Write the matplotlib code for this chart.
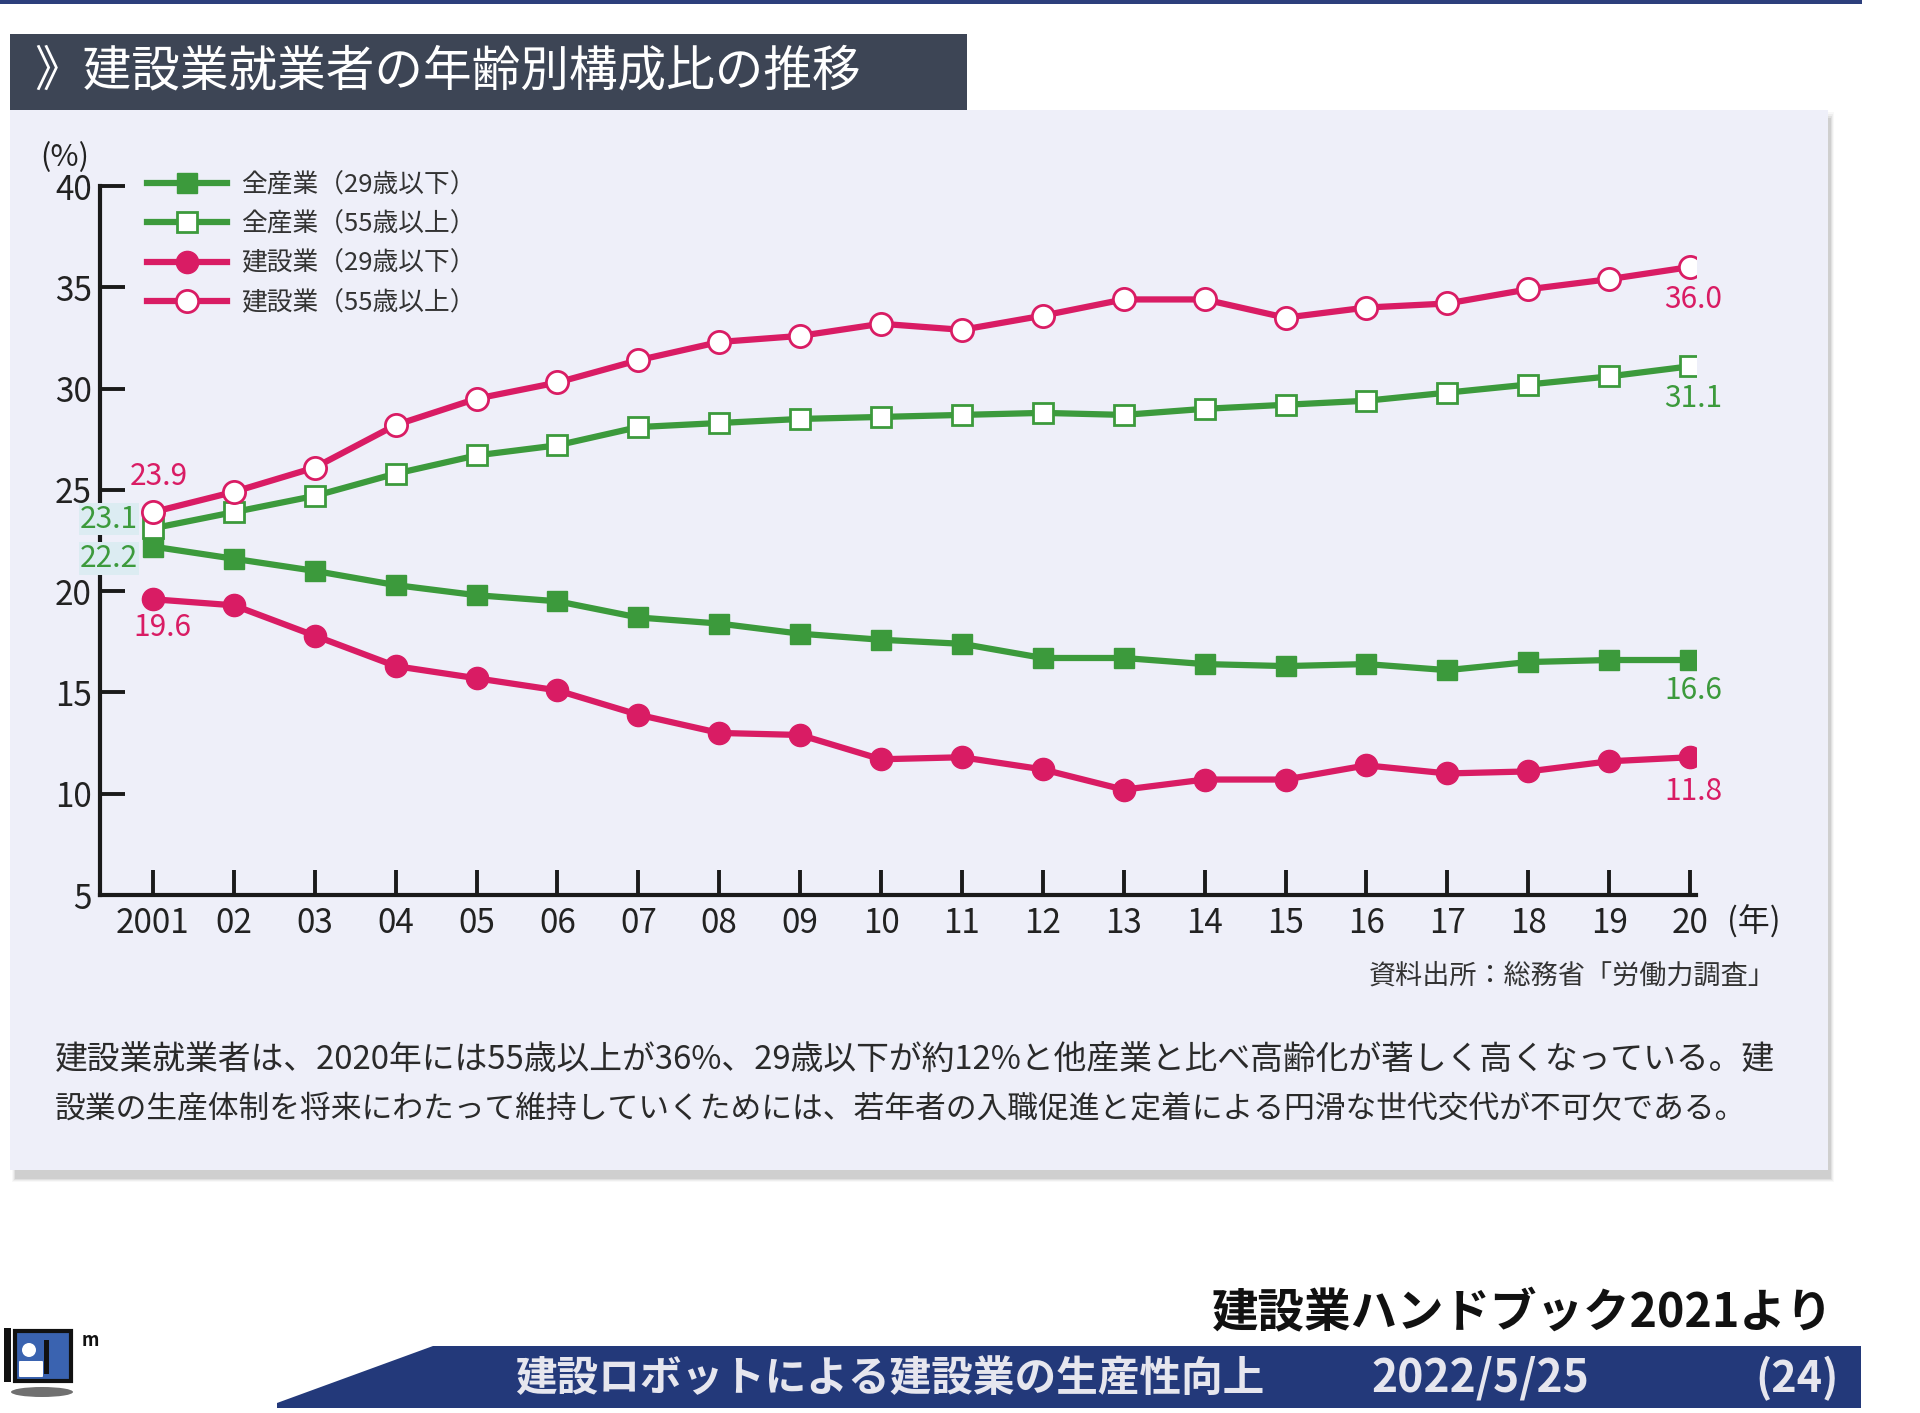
import numpy as np
import matplotlib.pyplot as plt
from matplotlib.patches import Rectangle, Polygon, Circle, Ellipse, FancyBboxPatch

plt.rcParams['font.family'] = ['Noto Sans CJK JP', 'DejaVu Sans']

# --- data ---
years = [2001, 2002, 2003, 2004, 2005, 2006, 2007, 2008, 2009, 2010,
         2011, 2012, 2013, 2014, 2015, 2016, 2017, 2018, 2019, 2020]
year_labels = ['2001', '02', '03', '04', '05', '06', '07', '08', '09', '10',
               '11', '12', '13', '14', '15', '16', '17', '18', '19', '20']
y_ticks = [5, 10, 15, 20, 25, 30, 35, 40]

all_young = [22.2, 21.6, 21.0, 20.3, 19.8, 19.5, 18.7, 18.4, 17.9, 17.6,
             17.4, 16.7, 16.7, 16.4, 16.3, 16.4, 16.1, 16.5, 16.6, 16.6]
all_old = [23.1, 23.9, 24.7, 25.8, 26.7, 27.2, 28.1, 28.3, 28.5, 28.6,
           28.7, 28.8, 28.7, 29.0, 29.2, 29.4, 29.8, 30.2, 30.6, 31.1]
con_young = [19.6, 19.3, 17.8, 16.3, 15.7, 15.1, 13.9, 13.0, 12.9, 11.7,
             11.8, 11.2, 10.2, 10.7, 10.7, 11.4, 11.0, 11.1, 11.6, 11.8]
con_old = [23.9, 24.9, 26.1, 28.2, 29.5, 30.3, 31.4, 32.3, 32.6, 33.2,
           32.9, 33.6, 34.4, 34.4, 33.5, 34.0, 34.2, 34.9, 35.4, 36.0]

legend_labels = ['全産業（29歳以下）', '全産業（55歳以上）',
                 '建設業（29歳以下）', '建設業（55歳以上）']

title = '》建設業就業者の年齢別構成比の推移'
body_lines = ['建設業就業者は、2020年には55歳以上が36%、29歳以下が約12%と他産業と比べ高齢化が著しく高くなっている。建',
              '設業の生産体制を将来にわたって維持していくためには、若年者の入職促進と定着による円滑な世代交代が不可欠である。']
body_widths = [1723, 1696]   # target pixel width of each body line
source = '資料出所：総務省「労働力調査」'

GREEN = '#3c9a3c'
PINK = '#d91c64'
W, H = 1920, 1413

fig = plt.figure(figsize=(W / 100, H / 100), dpi=100)
fig.patch.set_facecolor('white')

# --- background layer in pixel coordinates ---
bg = fig.add_axes([0, 0, 1, 1])
bg.set_xlim(0, W)
bg.set_ylim(H, 0)
bg.axis('off')

bg.add_patch(Rectangle((0, 0), 1862, 4, color='#2d3f7c', lw=0))
# panel with soft shadow
for i, a in enumerate([0.04, 0.06, 0.09, 0.12]):
    bg.add_patch(Rectangle((12 + i, 112 + i * 2), 1822 - i * 2, 1070 - i * 3, color='#555555', alpha=a, lw=0))
bg.add_patch(Rectangle((10, 110), 1818, 1060, color='#eeeff9', lw=0))
# title bar
bg.add_patch(Rectangle((10, 34), 957, 76, color='#3d4555', lw=0))
bg.text(34, 72, title, color='white', fontsize=35, va='center', ha='left')

bg.text(1776, 976, source, fontsize=19.5, ha='right', va='center', color='#333333')
body_texts = []
for i, line in enumerate(body_lines):
    body_texts.append(bg.text(55, 1061 + i * 49, line, fontsize=23, ha='left', va='center', color='#2a2a2a'))

bg.text(1833, 1313, '建設業ハンドブック2021より', fontsize=33.5, fontweight='bold',
        ha='right', va='center', color='#111111')

# bottom banner
bg.add_patch(Polygon([[277, 1403], [433, 1346], [1861, 1346], [1861, 1408], [277, 1408]],
                     closed=True, color='#23397a', lw=0))
bg.text(515, 1379, '建設ロボットによる建設業の生産性向上', fontsize=30, fontweight='bold',
        color='#e6e6ee', ha='left', va='center')
bg.text(1371, 1379, '2022/5/25', fontsize=32, fontweight='bold', color='#e6e6ee', ha='left', va='center')
bg.text(1839, 1379, '(24)', fontsize=31, fontweight='bold', color='#e6e6ee', ha='right', va='center')

# logo
bg.add_patch(Ellipse((42, 1392), 62, 10, color='#333333', alpha=0.7, lw=0))
bg.add_patch(Rectangle((4, 1328), 7, 54, color='#111111', lw=0))
bg.add_patch(Rectangle((15, 1331), 56, 50, fc='#3a63b0', ec='#111111', lw=3))
bg.add_patch(Circle((29, 1350), 7, color='white', lw=0))
bg.add_patch(FancyBboxPatch((20, 1362), 22, 14, boxstyle='round,pad=1', color='white', lw=0))
bg.add_patch(Rectangle((44, 1340), 5, 34, color='#111111', lw=0))
bg.text(82, 1340, 'm', fontsize=13, fontweight='bold', color='#111111', ha='left', va='center')

# --- chart ---
ax = fig.add_axes([100 / W, 1 - 895 / H, (1696 - 100) / W, (895 - 186) / H])
ax.patch.set_alpha(0)

ax.plot(years, all_young, color=GREEN, lw=4.5, marker='s', ms=15,
        mfc=GREEN, mec=GREEN, label=legend_labels[0], zorder=3)
ax.plot(years, all_old, color=GREEN, lw=4.5, marker='s', ms=15,
        mfc='white', mec=GREEN, mew=2, label=legend_labels[1], zorder=3)
ax.plot(years, con_young, color=PINK, lw=4.5, marker='o', ms=16,
        mfc=PINK, mec=PINK, label=legend_labels[2], zorder=3)
ax.plot(years, con_old, color=PINK, lw=4.5, marker='o', ms=16,
        mfc='white', mec=PINK, mew=2, label=legend_labels[3], zorder=3)

ax.set_xlim(years[0] - 53 / 81, years[-1] + 6 / 81)
ax.set_ylim(5, 40)
ax.set_xticks(years)
ax.set_xticklabels(year_labels)
ax.set_yticks(y_ticks)
for s in ['top', 'right']:
    ax.spines[s].set_visible(False)
for s in ['left', 'bottom']:
    ax.spines[s].set_linewidth(3)
    ax.spines[s].set_color('#1a1a1a')
ax.tick_params(direction='in', length=18, width=2.8, color='#1a1a1a',
               labelsize=24, labelcolor='#222222')
ax.tick_params(axis='x', pad=8)
ax.tick_params(axis='y', pad=6)

ax.text(-0.022, 1.04, '(%)', transform=ax.transAxes, fontsize=22, ha='center', va='center', color='#222222')
ax.annotate('(年)', xy=(years[-1], 5), xytext=(64, -27), textcoords='offset pixels',
            fontsize=23, ha='center', va='center', color='#222222', annotation_clip=False)

# value labels at both ends
lab = dict(textcoords='offset pixels', fontsize=21.5, va='center', annotation_clip=False)
ax.annotate(f'{con_old[0]:.1f}', xy=(years[0], con_old[0]), xytext=(6, 36), ha='center', color=PINK, **lab)
ax.annotate(f'{con_young[0]:.1f}', xy=(years[0], con_young[0]), xytext=(9, -28), ha='center', color=PINK, **lab)
ax.annotate(f'{all_old[0]:.1f}', xy=(years[0], all_old[0]), xytext=(-15, 9), ha='right', color=GREEN,
            bbox=dict(boxstyle='square,pad=0.02', fc='#dcecf2', ec='none'), **lab)
ax.annotate(f'{all_young[0]:.1f}', xy=(years[0], all_young[0]), xytext=(-15, -12), ha='right', color=GREEN,
            bbox=dict(boxstyle='square,pad=0.02', fc='#dcecf2', ec='none'), **lab)
ax.annotate(f'{con_old[-1]:.1f}', xy=(years[-1], con_old[-1]), xytext=(3, -32), ha='center', color=PINK, **lab)
ax.annotate(f'{all_old[-1]:.1f}', xy=(years[-1], all_old[-1]), xytext=(3, -32), ha='center', color=GREEN, **lab)
ax.annotate(f'{all_young[-1]:.1f}', xy=(years[-1], all_young[-1]), xytext=(3, -30), ha='center', color=GREEN, **lab)
ax.annotate(f'{con_young[-1]:.1f}', xy=(years[-1], con_young[-1]), xytext=(3, -34), ha='center', color=PINK, **lab)

leg = ax.legend(loc='upper left', bbox_to_anchor=(147 / W, 1 - 172 / H), bbox_transform=fig.transFigure,
                frameon=False, fontsize=18.5, handlelength=3.1, labelspacing=0.52,
                handletextpad=0.55, borderpad=0, borderaxespad=0)
for t in leg.get_texts():
    t.set_color('#333333')

# fit body text lines to the paragraph width
fig.canvas.draw()
renderer = fig.canvas.get_renderer()
for t, target in zip(body_texts, body_widths):
    w = t.get_window_extent(renderer).width
    t.set_fontsize(t.get_fontsize() * target / w)

fig.savefig('out.png', dpi=100, facecolor='white')
